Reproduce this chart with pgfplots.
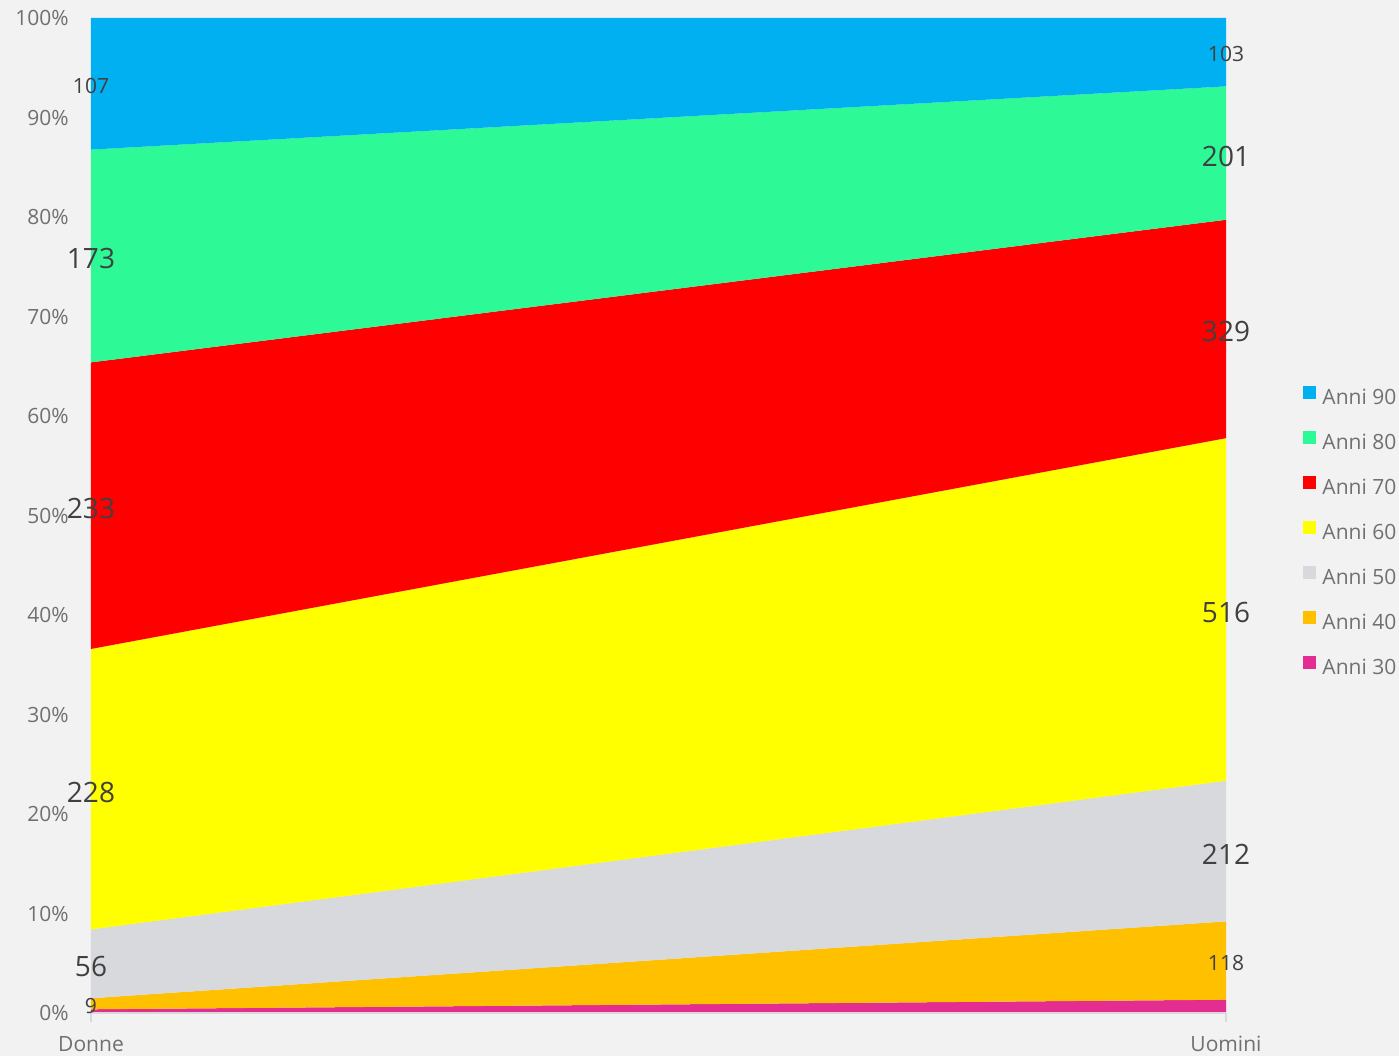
\documentclass[border=0pt]{standalone}
\usepackage{fontspec}
\setmainfont{Open Sans}
\usepackage{pgfplots}
\pgfplotsset{compat=1.18}
\definecolor{bg}{HTML}{F2F2F2}
\definecolor{c30}{HTML}{E32D91}
\definecolor{c40}{HTML}{FFC000}
\definecolor{c50}{HTML}{D8D9DD}
\definecolor{c60}{HTML}{FFFF00}
\definecolor{c70}{HTML}{FF0000}
\definecolor{c80}{HTML}{2DF996}
\definecolor{c90}{HTML}{00B0F0}
\definecolor{txt}{HTML}{707070}
\definecolor{lbl}{HTML}{404040}
\definecolor{axln}{HTML}{D9D9D9}
\newcommand{\smallf}{\fontsize{10.5}{12}\selectfont}
\newcommand{\bigf}{\fontsize{14}{16}\selectfont}

\begin{document}
\begin{tikzpicture}
\fill[bg] (0,0) rectangle (699.5pt,528pt);
\begin{axis}[
    at={(45.5pt,21.5pt)}, anchor=south west,
    scale only axis, width=567.5pt, height=497.5pt,
    xmin=0, xmax=1, ymin=0, ymax=100,
    clip=false,
    axis on top,
    axis lines*=left,
    x axis line style={axln, line width=0.75pt},
    y axis line style={draw=none},
    xtick={0,1}, xticklabels={Donne,Uomini},
    ytick={0,10,...,100},
    yticklabel={\pgfmathprintnumber{\tick}\%},
    /pgf/number format/assume math mode=true,
    tick align=outside,
    major tick length=4.5pt,
    xtick style={axln, line width=0.75pt},
    ytick style={draw=none},
    tick label style={font=\smallf, text=txt},
    yticklabel style={anchor=east, inner sep=0pt, xshift=-6.5pt},
    xticklabel style={anchor=north, inner sep=0pt, yshift=-7pt},
    reverse legend,
    legend style={at={(1.0679,0.4834)}, anchor=west, draw=none, fill=none,
        inner sep=0pt, font=\smallf, text=txt, row sep=11.5pt,
        nodes={inner sep=0pt, text height=8pt, text depth=2pt},
        /tikz/every odd column/.style={column sep=3pt}},
    legend cell align=left,
    legend image code/.code={\fill[#1] (0pt,-0.5pt) rectangle (6.5pt,6pt);},
]
% bands (cumulative percentages: Donne at x=0, Uomini at x=1)
\addplot[fill=c30, draw=none] coordinates {(0,0) (1,0) (1,1.334) (0,0.371)} -- cycle;
\addlegendentry{Anni 30}
\addplot[fill=c40, draw=none] coordinates {(0,0.371) (1,1.334) (1,9.206) (0,1.483)} -- cycle;
\addlegendentry{Anni 40}
\addplot[fill=c50, draw=none] coordinates {(0,1.483) (1,9.206) (1,23.349) (0,8.405)} -- cycle;
\addlegendentry{Anni 50}
\addplot[fill=c60, draw=none] coordinates {(0,8.405) (1,23.349) (1,57.772) (0,36.588)} -- cycle;
\addlegendentry{Anni 60}
\addplot[fill=c70, draw=none] coordinates {(0,36.588) (1,57.772) (1,79.720) (0,65.389)} -- cycle;
\addlegendentry{Anni 70}
\addplot[fill=c80, draw=none] coordinates {(0,65.389) (1,79.720) (1,93.129) (0,86.773)} -- cycle;
\addlegendentry{Anni 80}
\addplot[fill=c90, draw=none] coordinates {(0,86.773) (1,93.129) (1,100) (0,100)} -- cycle;
\addlegendentry{Anni 90}
% data labels
\addplot[forget plot, only marks, mark=none, point meta=explicit symbolic,
    nodes near coords, nodes near coords style={anchor=center, inner sep=0pt, yshift=-1pt, font=\smallf, text=lbl}]
    coordinates {(0,93.387) [107] (0,0.927) [9] (1,96.565) [103] (1,5.270) [118]};
\addplot[forget plot, only marks, mark=none, point meta=explicit symbolic,
    nodes near coords, nodes near coords style={anchor=center, inner sep=0pt, yshift=-1.5pt, font=\bigf, text=lbl}]
    coordinates {(0,76.081) [173] (0,50.989) [233] (0,22.497) [228] (0,4.944) [56]
                 (1,86.425) [201] (1,68.746) [329] (1,40.561) [516] (1,16.278) [212]};
\end{axis}
\pgfresetboundingbox
\path[use as bounding box] (0,0) rectangle (699.5pt,528pt);
\end{tikzpicture}
\end{document}
